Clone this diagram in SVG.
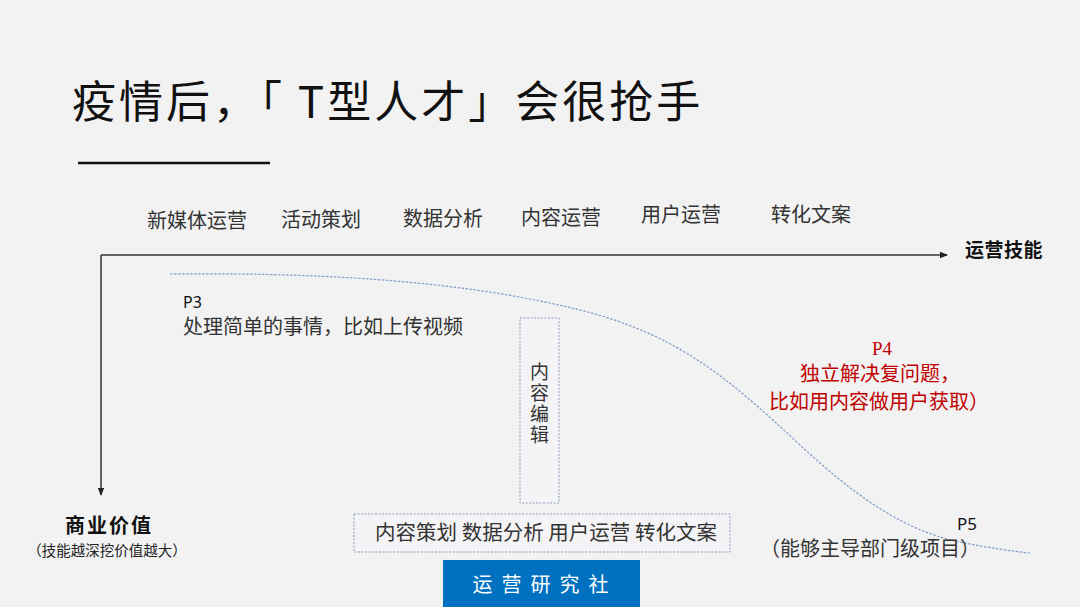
<svg xmlns="http://www.w3.org/2000/svg" width="1080" height="607" viewBox="0 0 1080 607">
<style>
.cjk{font-family:"Noto Sans CJK SC","Noto Sans",sans-serif;fill:#333}
.lat{font-family:"Noto Sans","Liberation Sans",sans-serif;fill:#111}
.red{fill:#c00000}
.box{fill:#f4f4f6;stroke:#8a9bb8;stroke-width:1;stroke-dasharray:2 1.5}
</style>
<defs>
<marker id="ah" markerWidth="8" markerHeight="8" refX="7" refY="4" orient="auto" markerUnits="userSpaceOnUse">
<path d="M0,0.8 L8,4 L0,7.2 Z" fill="#222"/>
</marker>
</defs>
<rect width="1080" height="607" fill="#f2f2f2"/>
<g id="title">
<text x="72" y="118" class="cjk" font-size="44" letter-spacing="3" style="fill:#111">疫情后，「 T型人才」会很抢手</text>
<line x1="78" y1="163" x2="270" y2="163" stroke="#111" stroke-width="2.5"/>
</g>
<g id="skills" class="cjk" font-size="20">
<text x="147" y="228" class="cjk">新媒体运营</text>
<text x="281" y="227" class="cjk">活动策划</text>
<text x="403" y="226" class="cjk">数据分析</text>
<text x="521" y="225" class="cjk">内容运营</text>
<text x="641" y="222" class="cjk">用户运营</text>
<text x="771" y="222" class="cjk">转化文案</text>
</g>
<g id="connectors">
<line x1="101" y1="255" x2="947" y2="255" stroke="#333" stroke-width="1.5" marker-end="url(#ah)"/>
<line x1="101" y1="255" x2="101" y2="495" stroke="#333" stroke-width="1.5" marker-end="url(#ah)"/>
<path d="M170,274 C350,272 480,285 580,310 C680,335 730,380 800,445 C850,491 900,530 960,542 C990,548 1010,551 1030,553" fill="none" stroke="#7f9cc8" stroke-width="1.2" stroke-dasharray="2.5 1.5"/>
</g>
<g id="axis-x-label">
<text x="965" y="257" class="cjk" font-size="19" letter-spacing="0.5" font-weight="bold" style="fill:#111">运营技能</text>
</g>
<g id="axis-y-label">
<text x="109" y="533" class="cjk" font-size="20" letter-spacing="2" font-weight="bold" text-anchor="middle" style="fill:#111">商业价值</text>
<text x="107" y="556" class="cjk" font-size="14.5" text-anchor="middle" style="fill:#222">（技能越深挖价值越大）</text>
</g>
<g id="p3">
<text x="183" y="308" class="lat" font-size="16">P3</text>
<text x="183" y="334" class="cjk" font-size="20">处理简单的事情，比如上传视频</text>
</g>
<g id="content-edit">
<rect x="520" y="318" width="39" height="185" class="box"/>
<text x="539.5" y="362" class="cjk" font-size="19" writing-mode="vertical-rl" letter-spacing="2">内容编辑</text>
</g>
<g id="p4" class="cjk red" font-size="20" text-anchor="middle">
<text x="882" y="355" class="red" font-size="19" style="font-family:'Liberation Serif',serif">P4</text>
<text x="880" y="381" class="cjk red">独立解决复问题，</text>
<text x="879" y="409" class="cjk red">比如用内容做用户获取）</text>
</g>
<g id="skills-box">
<rect x="354" y="514" width="376" height="38" class="box"/>
<text x="546" y="540" class="cjk" font-size="20.5" text-anchor="middle">内容策划 数据分析 用户运营 转化文案</text>
</g>
<g id="p5">
<text x="957" y="530" class="lat" font-size="17">P5</text>
<text x="760" y="556" class="cjk" font-size="20">（能够主导部门级项目）</text>
</g>
<g id="brand">
<rect x="443" y="560" width="197" height="47" fill="#0070c0"/>
<text x="545" y="592" class="cjk" font-size="20" text-anchor="middle" letter-spacing="9" style="fill:#fff">运营研究社</text>
</g>
</svg>
